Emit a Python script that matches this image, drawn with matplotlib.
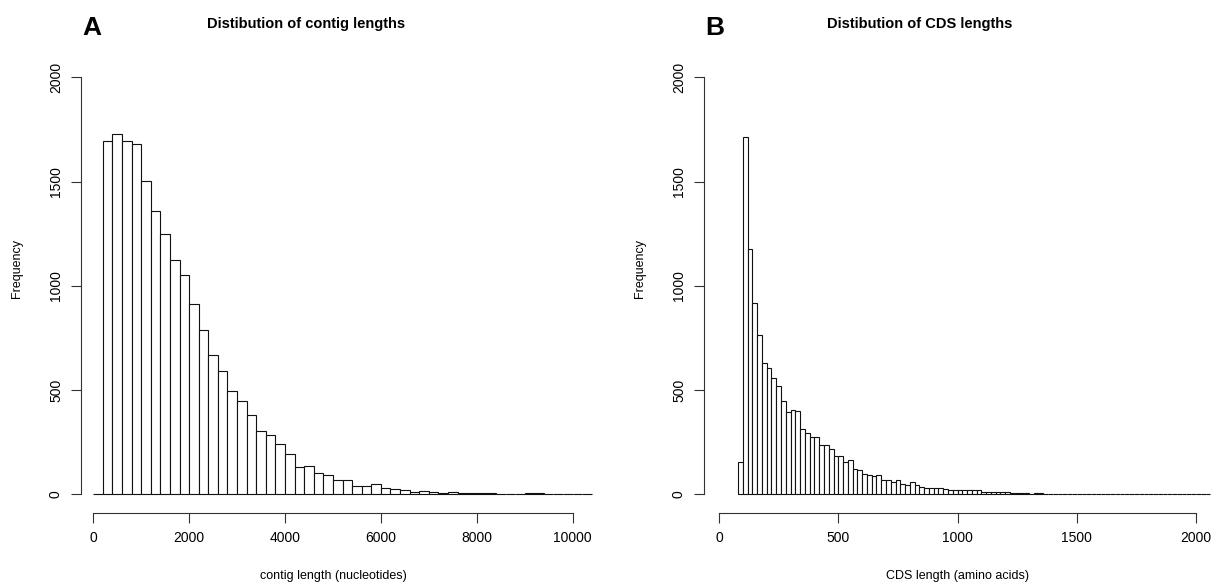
"""Two R-style histograms: contig lengths and CDS lengths."""

import matplotlib.pyplot as plt
import numpy as np

W, H = 1215, 587

# panel A: contig lengths, 200 nt bins starting at 0
contig_bin_start = 0
contig_bin_width = 200
contig_counts = [
    0, 1696, 1728, 1696, 1679, 1504, 1360, 1248, 1125, 1052,
    911, 789, 668, 590, 497, 447, 379, 305, 286, 241,
    192, 129, 136, 104, 92, 70, 67, 40, 40, 51,
    32, 24, 18, 13, 14, 11, 8, 11, 8, 5,
    6, 4, 3, 2, 2, 5, 4, 2, 1, 2,
    1, 1,
]
contig_xticks = [0, 2000, 4000, 6000, 8000, 10000]

# panel B: CDS lengths, 20 aa bins starting at 80
cds_bin_start = 80
cds_bin_width = 20
cds_counts = [
    156, 1715, 1177, 919, 764, 628, 604, 556, 521, 449,
    393, 404, 401, 312, 292, 276, 273, 236, 236, 217,
    185, 185, 156, 164, 123, 115, 99, 91, 86, 91,
    67, 67, 60, 70, 49, 45, 57, 42, 34, 32,
    32, 29, 30, 24, 22, 22, 21, 18, 18, 19,
    18, 10, 10, 11, 11, 10, 13, 8, 6, 5,
    4, 3, 5, 4, 3, 2, 3, 2, 2, 3,
    2, 2, 1, 2, 1, 2, 3, 2, 1, 3,
    1, 1, 2, 1, 3, 1, 1, 1, 0, 1,
    1, 0, 1, 0, 1, 0, 1, 0, 1,
]
cds_xticks = [0, 500, 1000, 1500, 2000]

yticks = [0, 500, 1000, 1500, 2000]

plt.rcParams["font.family"] = ["Liberation Sans", "DejaVu Sans"]


def px_box(left, top, right, bottom):
    return [left / W, 1 - bottom / H, (right - left) / W, (bottom - top) / H]


def r_hist(ax, start, width, counts, xticks, xlim):
    counts = np.asarray(counts)
    lefts = start + width * np.arange(len(counts))
    ax.bar(lefts, counts, width=width, align="edge", facecolor="white",
           edgecolor="#111111", linewidth=0.8)
    ax.set_xlim(*xlim)
    ax.set_ylim(-90, 2083)
    for side in ("top", "right"):
        ax.spines[side].set_visible(False)
    ax.spines["left"].set_bounds(0, 2000)
    ax.spines["bottom"].set_bounds(xticks[0], xticks[-1])
    for side in ("left", "bottom"):
        ax.spines[side].set_linewidth(0.8)
        ax.spines[side].set_color("#333333")
    ax.set_yticks(yticks)
    ax.set_xticks(xticks)
    ax.set_yticklabels([str(v) for v in yticks], rotation=90, va="center")
    ax.tick_params(axis="both", direction="out", length=7, width=0.8,
                   color="#333333", labelsize=10, pad=6)


fig = plt.figure(figsize=(W / 100, H / 100), dpi=100)

panels = [
    ("A", "Distibution of contig lengths", "contig length (nucleotides)",
     (81, 60, 605, 513), 306, contig_bin_start, contig_bin_width,
     contig_counts, contig_xticks, (-255, 10675)),
    ("B", "Distibution of CDS lengths", "CDS length (amino acids)",
     (704, 60, 1212, 513), 920, cds_bin_start, cds_bin_width,
     cds_counts, cds_xticks, (-63, 2067)),
]

for (letter, title, xlabel, box, title_x, start, width, counts,
     xticks, xlim) in panels:
    left, top, right, bottom = box
    ax = fig.add_axes(px_box(left, top, right, bottom))
    r_hist(ax, start, width, counts, xticks, xlim)

    # x label sits under the middle of the tick range
    tick_mid = ax.transData.transform(((xticks[0] + xticks[-1]) / 2, 0))[0]
    fig.text(title_x / W, 1 - 24 / H, title, ha="center", va="center",
             fontsize=10.5, fontweight="bold")
    fig.text(tick_mid / fig.bbox.width, 1 - 576 / H, xlabel,
             ha="center", va="center", fontsize=9)
    fig.text((left - 64) / W, 1 - 268 / H, "Frequency", rotation=90,
             ha="center", va="center", fontsize=9)
    fig.text((left + 11) / W, 1 - 28 / H, letter, ha="center", va="center",
             fontsize=19, fontweight="bold")

fig.savefig("out.png", dpi=100)
